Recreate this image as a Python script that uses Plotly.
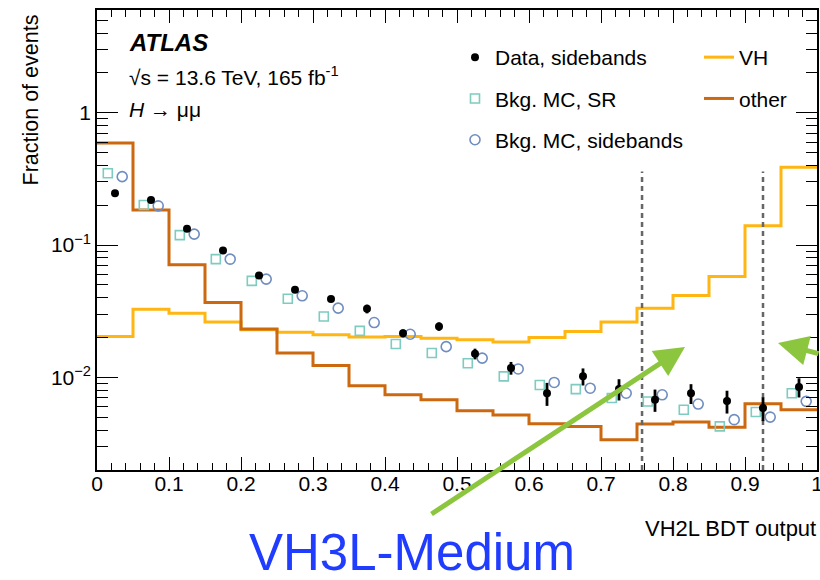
import plotly.graph_objects as go

# ---------------- data ----------------
bin_edges = [round(0.05 * i, 2) for i in range(21)]
bin_centers = [round(0.025 + 0.05 * i, 3) for i in range(20)]

vh = [0.0204, 0.0328, 0.0306, 0.0262, 0.0229, 0.0220, 0.0210, 0.0202, 0.0204, 0.0198,
      0.0193, 0.0185, 0.0200, 0.0222, 0.0262, 0.0334, 0.0416, 0.0578, 0.140, 0.387]
other = [0.59, 0.184, 0.071, 0.0368, 0.0232, 0.0153, 0.0123, 0.00865, 0.0074, 0.0068,
         0.0056, 0.0052, 0.00448, 0.00427, 0.00339, 0.00446, 0.0046, 0.0042, 0.00633, 0.0057]

data_sb = [0.246, 0.219, 0.133, 0.091, 0.0589, 0.0459, 0.0391, 0.033, 0.0216, 0.0243,
           0.0151, 0.0118, 0.0076, 0.0102, 0.0082, 0.0068, 0.0076, 0.00664, 0.00588, 0.00846]
data_err = [0.006, 0.006, 0.004, 0.003, 0.002, 0.0018, 0.0017, 0.0025, 0.0015, 0.0018,
            0.0014, 0.0013, 0.0015, 0.0015, 0.0015, 0.0013, 0.0013, 0.0013, 0.0012, 0.0014]
mc_sr = [0.349, 0.201, 0.119, 0.0783, 0.0537, 0.0393, 0.0289, 0.0225, 0.0179, 0.0153,
         0.0128, 0.0102, 0.00877, 0.00817, 0.00699, 0.00659, 0.0057, 0.00427, 0.00548, 0.0076]
mc_sb = [0.329, 0.198, 0.121, 0.0783, 0.0553, 0.0414, 0.0334, 0.026, 0.0212, 0.0171,
         0.014, 0.0116, 0.00917, 0.0083, 0.0076, 0.0074, 0.0063, 0.0048, 0.00502, 0.0066]

cut_lines = [0.757, 0.925]
cut_top = 0.36

x_tickvals = [0, 0.1, 0.2, 0.3, 0.4, 0.5, 0.6, 0.7, 0.8, 0.9, 1.0]
x_ticktext = ["0", "0.1", "0.2", "0.3", "0.4", "0.5", "0.6", "0.7", "0.8", "0.9", "1"]
x_minor = [round(0.02 * i, 2) for i in range(51)]
y_tickvals = [0.01, 0.1, 1]
y_ticktext = ["10<sup>\u22122</sup>", "10<sup>\u22121</sup>", "1"]
y_minor = [m * 10 ** k for k in (-3, -2, -1, 0) for m in range(2, 10)]

FONT = "Liberation Sans, Arial, Helvetica, sans-serif"
C_VH = "#ffb612"
C_OTHER = "#cc680f"
C_SR = "#7ecbbf"
C_SB = "#6f8dc0"

fig = go.Figure()

fig.add_trace(go.Scatter(x=bin_edges, y=vh + [vh[-1]], mode="lines", line=dict(color=C_VH, width=3, shape="hv"),
                         name="VH", legend="legend2", legendgroup="vh", legendrank=1))
fig.add_trace(go.Scatter(x=bin_edges, y=other + [other[-1]], mode="lines", line=dict(color=C_OTHER, width=3, shape="hv"),
                         name="other", legend="legend2", legendgroup="other", legendrank=2))

for xc in cut_lines:
    fig.add_trace(go.Scatter(x=[xc, xc], y=[0.002, cut_top], mode="lines",
                             line=dict(color="#666666", width=2.5, dash="5px,4px"), showlegend=False,
                             hoverinfo="skip"))

fig.add_trace(go.Scatter(x=[c - 0.01 for c in bin_centers], y=mc_sr, mode="markers",
                         marker=dict(symbol="square-open", size=9, color=C_SR, line=dict(width=1.6)),
                         name="Bkg. MC, SR", legend="legend", legendgroup="sr", legendrank=2))
fig.add_trace(go.Scatter(x=[c + 0.01 for c in bin_centers], y=mc_sb, mode="markers",
                         marker=dict(symbol="circle-open", size=10, color=C_SB, line=dict(width=1.6)),
                         name="Bkg. MC, sidebands", legend="legend", legendgroup="sb", legendrank=3))
fig.add_trace(go.Scatter(x=bin_centers, y=data_sb, mode="markers",
                         marker=dict(symbol="circle", size=8, color="black"),
                         error_y=dict(type="data", array=data_err, color="black", thickness=2.8, width=0),
                         name="Data, sidebands", legend="legend", legendgroup="data", legendrank=1))

def px(x):
    return (x - 97) / 720.0

def py(y):
    return (470 - y) / 460.0

ann = []
ann.append(dict(text="<b><i>ATLAS</i></b>", x=px(127), y=py(42), xref="paper", yref="paper",
                xanchor="left", yanchor="middle", showarrow=False, font=dict(size=24, family=FONT, color="black")))
ann.append(dict(text="\u221as = 13.6 TeV, 165 fb<sup>-1</sup>", x=px(127), y=py(76), xref="paper", yref="paper",
                xanchor="left", yanchor="middle", showarrow=False, font=dict(size=21, family=FONT, color="black")))
ann.append(dict(text="<i>H</i> \u2192 \u03bc\u03bc", x=px(127), y=py(110), xref="paper", yref="paper",
                xanchor="left", yanchor="middle", showarrow=False, font=dict(size=21, family=FONT, color="black")))
ann.append(dict(text="Fraction of events", x=px(31), y=py(13), xref="paper", yref="paper", textangle=-90,
                xanchor="center", yanchor="top", showarrow=False, font=dict(size=21.5, family=FONT, color="black")))
ann.append(dict(text="VH2L BDT output", x=px(818), y=py(528), xref="paper", yref="paper",
                xanchor="right", yanchor="middle", showarrow=False, font=dict(size=22, family=FONT, color="black")))
ann.append(dict(text="VH3L-Medium", x=px(412), y=py(552), xref="paper", yref="paper",
                xanchor="center", yanchor="middle", showarrow=False, font=dict(size=51, family=FONT, color="#1f3cff")))
ann.append(dict(text="", x=px(685), y=py(347), xref="paper", yref="paper", showarrow=True,
                ax=-255, ay=168, arrowcolor="#8cc63f", arrowwidth=5, arrowhead=2, arrowsize=1.2))
ann.append(dict(text="", x=px(778), y=py(343), xref="paper", yref="paper", showarrow=True,
                ax=55, ay=11, arrowcolor="#8cc63f", arrowwidth=5, arrowhead=2, arrowsize=1.2))

axis_common = dict(showline=True, linecolor="black", linewidth=1.5, mirror="allticks", ticks="inside",
                   tickcolor="black", showgrid=False, zeroline=False, ticklabeloverflow="allow",
                   automargin=False,
                   tickfont=dict(size=21, family=FONT, color="black"))

fig.update_layout(
    width=820, height=580,
    margin=dict(l=97, r=3, t=10, b=110, autoexpand=False),
    paper_bgcolor="white", plot_bgcolor="white",
    font=dict(family=FONT, color="black"),
    annotations=ann,
    xaxis=dict(range=[0, 1], tickmode="array", tickvals=x_tickvals, ticktext=x_ticktext,
               ticklen=13, tickwidth=1.3, ticklabelstandoff=-6,
               minor=dict(tickmode="array", tickvals=x_minor, ticklen=7, tickwidth=1.1, tickcolor="black",
                          ticks="inside", showgrid=False),
               **axis_common),
    yaxis=dict(type="log", range=[-2.699, 0.776], tickmode="array", tickvals=y_tickvals, ticktext=y_ticktext,
               ticklen=21, tickwidth=1.3,
               minor=dict(tickmode="array", tickvals=y_minor, ticklen=11, tickwidth=1.1, tickcolor="black",
                          ticks="inside", showgrid=False),
               **axis_common),
    legend=dict(x=px(455), y=py(37), xanchor="left", yanchor="top", bgcolor="rgba(0,0,0,0)",
                font=dict(size=21, family=FONT, color="black"), tracegroupgap=11, traceorder="grouped"),
    legend2=dict(x=px(699), y=py(37), xanchor="left", yanchor="top", bgcolor="rgba(0,0,0,0)",
                 font=dict(size=21, family=FONT, color="black"), tracegroupgap=11, traceorder="grouped"),
    showlegend=True,
)

fig.write_html("out.html")
